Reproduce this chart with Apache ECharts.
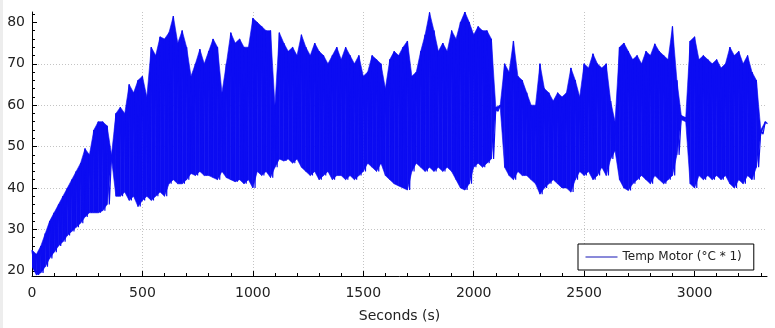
<!DOCTYPE html>
<html><head><meta charset="utf-8">
<script src="https://cdn.jsdelivr.net/npm/echarts@6/dist/echarts.min.js"></script>
<style>html,body{margin:0;padding:0;background:#fff}#c{width:775px;height:328px}</style>
</head><body><div id="c"></div>
<script>
// sample spacing of envelope bins (seconds)
const binStep = 20;
// upper envelope (peak of the oscillation) per 20 s bin, from t = 0
const upperEnvelope = [
 25,24,26,29,32,34,36,38,40,42,44,46,49.5,48,54,56,56,55,48,58,
 59.5,58,65,63,66,67,62,74,72,76.5,76,77.5,81.5,75,78,74,67,70,73.5,70,
 73,76,74,63,70,77.5,75,76,74,74,81,80,79,78,78,60,77.5,75,73,74,
 72,77,74,72,75,73,72,70,72,74,71,74,72,70,72,67,68,72,71,70,
 64,71,73,72,74,75.5,67,68,73,77,82.4,78,73,75,73,78,76,80,82.5,80,
 77,79,78,78,76,59.5,60,70,68,75.5,67,66,63,60,60,70,64,63,61,63,
 62,63,69,66,62,70,69,72.4,70,69,70,61,56,74,75,73,71,72,70,73,
 72,74.8,73,72,71,79,66,57.5,57,75.5,76.5,71,72,71,70,71,69,70,74,72,
 73,70,72,68,66,54,56
];
// lower envelope (trough of the oscillation) per 20 s bin, from t = 0
const lowerEnvelope = [
 21,19,19.5,21,23,24.5,26,27,28.5,29.5,30.5,31.5,33,34,34,34,34.5,36,47,38,
 38,39,37,38,35.5,37,38,37,38,39,38,41,42,41,41,42,43.5,43,44,43,
 43,42.5,42,44,42.5,42,41.5,42,41,42,40,44,43,44,42.5,45,47,46.5,47,46,
 47,45,44,43,44,42,43,44,42,43,43,42,43,42,43,44,46,45,44,46,
 43,42,41,40.5,40,39.5,44,46,45,44,45,44,45,44,45,44,42,40,39.5,41,
 45,46,45,46,47,58.5,59.5,45,43,42,44,43,43,42,41,38.5,40,41,42,41,
 40,40,39,42,44,43,44,42,43,45,43,47,49,42,40,39.4,41,42,43,42,
 41,43,42,41,42,43,48,56.5,56,41,40,43,42,43,42,43,42,43,41,40,
 42,41,43,42,45,53,55.5
];
const xTicks = [0,500,1000,1500,2000,2500,3000];
const xMinorTicks = [100,200,300,400,600,700,800,900,1100,1200,1300,1400,1600,1700,1800,1900,2100,2200,2300,2400,2600,2700,2800,2900,3100,3200,3300];
const yTicks = [20,30,40,50,60,70,80];
const yMinorTicks = [22,24,26,28,32,34,36,38,42,44,46,48,52,54,56,58,62,64,66,68,72,74,76,78,82];
const seriesName = 'Temp Motor (°C * 1)';
const xName = 'Seconds (s)';

// oscillating trace: peak then trough within each bin
const trace = [];
upperEnvelope.forEach((hi, i) => {
  const t = i * binStep;
  trace.push([t, hi]);
  trace.push([t + binStep / 2, lowerEnvelope[i]]);
});
// envelope band segments: [t, lo, hi, tNext, loNext, hiNext]
const bandItems = [];
for (let i = 0; i < upperEnvelope.length - 1; i++) {
  bandItems.push([i * binStep, lowerEnvelope[i], upperEnvelope[i],
                  (i + 1) * binStep, lowerEnvelope[i + 1], upperEnvelope[i + 1]]);
}

const blue = '#0c0cf2';
const font = 'DejaVu Sans';
const xMin = 0, xMax = 3328, yMin = 18.74, yMax = 82.5;
const chart = echarts.init(document.getElementById('c'), null, {renderer: 'canvas'});
chart.setOption({
  animation: false,
  backgroundColor: '#fff',
  graphic: [{type: 'rect', left: 0, top: 0, z: -10, shape: {width: 3, height: 328}, style: {fill: '#ededed'}}],
  grid: {left: 32, right: 8, top: 12, bottom: 47, containLabel: false},
  legend: {
    left: 578, top: 244, padding: [7, 12, 7, 7], itemWidth: 32, itemHeight: 14,
    borderColor: '#000', borderWidth: 1, backgroundColor: '#fff', borderRadius: 0,
    textStyle: {fontFamily: font, fontSize: 12, color: '#222'},
    data: [{name: seriesName, itemStyle: {opacity: 0}, lineStyle: {color: '#1414b4', width: 1}}]
  },
  xAxis: [{
    type: 'value', position: 'bottom', min: xMin, max: xMax,
    name: xName, nameLocation: 'middle', nameGap: 33,
    nameTextStyle: {fontFamily: font, fontSize: 14, color: '#222'},
    axisLine: {show: true, onZero: false, lineStyle: {color: '#000', width: 1}},
    axisTick: {show: true, inside: true, length: 5, customValues: xTicks, lineStyle: {color: '#000'}},
    axisLabel: {customValues: xTicks, formatter: v => String(v), fontFamily: font, fontSize: 14, color: '#222', margin: 10},
    splitLine: {show: true, showMinLine: false, showMaxLine: false, lineStyle: {color: '#c4c4c4', type: [1, 2]}}
  }, {
    type: 'value', position: 'bottom', min: xMin, max: xMax,
    axisLine: {show: false, onZero: false},
    axisTick: {show: true, inside: true, length: 3, customValues: xMinorTicks, lineStyle: {color: '#000'}},
    axisLabel: {show: false}, splitLine: {show: false}
  }],
  yAxis: [{
    type: 'value', position: 'left', min: yMin, max: yMax,
    axisLine: {show: true, onZero: false, lineStyle: {color: '#000', width: 1}},
    axisTick: {show: true, inside: true, length: 5, customValues: yTicks, lineStyle: {color: '#000'}},
    axisLabel: {customValues: yTicks, formatter: v => String(v), fontFamily: font, fontSize: 14, color: '#222', margin: 7},
    splitLine: {show: true, showMinLine: false, showMaxLine: false, lineStyle: {color: '#c4c4c4', type: [1, 2]}}
  }, {
    type: 'value', position: 'left', min: yMin, max: yMax,
    axisLine: {show: false, onZero: false},
    axisTick: {show: true, inside: true, length: 3, customValues: yMinorTicks, lineStyle: {color: '#000'}},
    axisLabel: {show: false}, splitLine: {show: false}
  }],
  series: [{
    name: 'band', type: 'custom', xAxisIndex: 0, yAxisIndex: 0, data: bandItems,
    encode: {x: [0, 3], y: [1, 2, 4, 5]}, clip: true, silent: true, z: 1,
    renderItem: (params, api) => {
      const a = api.coord([api.value(0), api.value(2)]);
      const b = api.coord([api.value(3), api.value(5)]);
      const c = api.coord([api.value(3), api.value(4)]);
      const d = api.coord([api.value(0), api.value(1)]);
      return {type: 'polygon', shape: {points: [a, b, c, d]},
              style: {fill: blue, stroke: blue, lineWidth: 0.6}};
    }
  }, {
    name: seriesName, type: 'line', xAxisIndex: 0, yAxisIndex: 0,
    data: trace, symbol: 'none', showSymbol: false, sampling: null, z: 2,
    lineStyle: {color: blue, width: 1.2}, itemStyle: {color: blue}
  }]
});
</script></body></html>
